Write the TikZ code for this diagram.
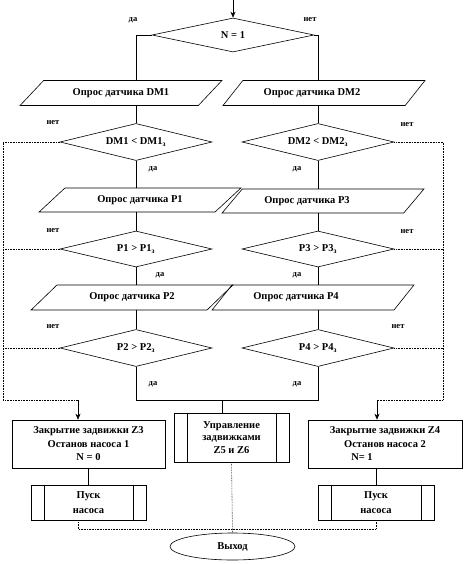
\documentclass[tikz,border=0pt]{standalone}
\usepackage{fontspec}
\setmainfont{Liberation Serif}
\usetikzlibrary{shapes.geometric,arrows.meta}
\begin{document}
\begin{tikzpicture}[x=1pt,y=-1pt,
  font=\bfseries\fontsize{10.5}{13.5}\selectfont,
  every node/.style={inner sep=0pt},
  line width=0.6pt,
  dia/.style={diamond,draw,shape aspect=4,minimum width=152pt,minimum height=37pt},
  para/.style={trapezium,draw,trapezium left angle=32,trapezium right angle=148,
     trapezium stretches=true,minimum width=202pt,minimum height=25pt},
  box/.style={rectangle,draw,align=center},
  proc/.style={rectangle,draw,align=center},
  lab/.style={font=\bfseries\fontsize{8.5}{9}\selectfont},
  dl/.style={densely dotted},
  arr/.style={-{Stealth[length=6pt,width=5pt]}}]
\useasboundingbox (0,0) rectangle (465,564);

% decisions and inputs
\node[dia,minimum width=162pt,minimum height=34pt] (n1) at (233,35) {N = 1};
\node[para] (pA) at (121,93) {Опрос датчика DM1};
\node[para] (pB) at (324,93) {Опрос датчика DM2\hspace*{24pt}};
\node[dia] (dA) at (136,142) {DM1 < DM1\textsubscript{з}};
\node[dia] (dB) at (318,142) {DM2 < DM2\textsubscript{з}};
\node[para,minimum height=24pt] (pC) at (140,200) {Опрос датчика P1};
\node[para,minimum height=24pt] (pD) at (323,201) {Опрос датчика P3\hspace*{32pt}};
\node[dia,minimum height=36pt] (dC) at (136,249) {P1 > P1\textsubscript{з}};
\node[dia,minimum height=36pt] (dD) at (318,249) {P3 > P3\textsubscript{з}};
\node[para] (pE) at (132,297.5) {Опрос датчика P2};
\node[para] (pF) at (313,297.5) {Опрос датчика P4\hspace*{34pt}};
\node[dia] (dE) at (136,348) {P2 > P2\textsubscript{з}};
\node[dia] (dF) at (318,348) {P4 > P4\textsubscript{з}};

% actions
\node[box,minimum width=153pt,minimum height=48pt] (bL) at (88.5,444)
  {Закрытие задвижки Z3\\Останов насоса 1\\N = 0};
\node[box,minimum width=154pt,minimum height=48pt] (bR) at (385,444)
  {Закрытие задвижки Z4\\Останов насоса 2\\N= 1\hspace*{46pt}};
\node[proc,minimum width=115pt,minimum height=49pt,font=\bfseries\fontsize{10.5}{12.5}\selectfont] (mid) at (231.5,437.5)
  {Управление\\задвижками\\Z5 и Z6};
\node[proc,minimum width=115pt,minimum height=35pt,font=\bfseries\fontsize{10.5}{15}\selectfont] (sL) at (88.5,502.5) {Пуск\\насоса};
\node[proc,minimum width=116pt,minimum height=35pt,font=\bfseries\fontsize{10.5}{15}\selectfont] (sR) at (376,502.5) {Пуск\\насоса};
\node[ellipse,draw,minimum width=125pt,minimum height=27pt] (ex) at (232.5,546.5) {Выход};

% inner bars of predefined processes
\foreach \n in {mid,sL,sR}{
  \draw ([xshift=13.5pt]\n.north west) -- ([xshift=13.5pt]\n.south west);
  \draw ([xshift=-13.5pt]\n.north east) -- ([xshift=-13.5pt]\n.south east);
}

% helper coordinates
\coordinate (start) at (233,0);
\coordinate (wl) at (3,400);
\coordinate (wr) at (443,400);
\coordinate (al) at (78,400);
\coordinate (ar) at (377,400);
\coordinate (jm) at (222,400);
\coordinate (jb) at (230,529);

% connectors
\draw[arr] (start) -- (n1.north);
\draw (n1.west) -| (dA |- pA.north);
\draw (n1.east) -| (dB |- pB.north);
\draw (dA |- pA.south) -- (dA.north);
\draw (dB |- pB.south) -- (dB.north);
\draw (dA.south) -- (dA |- pC.north);
\draw (dA |- pC.south) -- (dC.north);
\draw (dB.south) -- (dB |- pD.north);
\draw (dB |- pD.south) -- (dD.north);
\draw (dC.south) -- (dC |- pE.north);
\draw (dC |- pE.south) -- (dE.north);
\draw (dD.south) -- (dD |- pF.north);
\draw (dD |- pF.south) -- (dF.north);
\draw (dE.south) |- (jm);
\draw (dF.south) |- (jm);
\draw (jm) -- (jm |- mid.north);

\draw[dl] (dA.west) -| (wl) -- (al);
\draw[dl] (dC.west) -- (dC.west -| wl);
\draw[dl] (dE.west) -- (dE.west -| wl);
\draw[arr] (al) -- (al |- bL.north);
\draw[dl] (dB.east) -| (wr) -- (ar);
\draw[dl] (dD.east) -- (dD.east -| wr);
\draw[dl] (dF.east) -- (dF.east -| wr);
\draw[arr] (ar) -- (ar |- bR.north);

\draw (bL.south) -- (sL.north);
\draw (sR.north |- bR.south) -- (sR.north);
\draw[dl] ([xshift=-10.5pt]sL.south) |- (sR.south |- jb) -- (sR.south);
\draw[dl] (mid.south) -- (ex.north);

% branch labels
\node[lab] (l1) at (133,20) {да};
\node[lab] (l2) at (310,20) {нет};
\node[lab] (l3) at (53,123) {нет};
\node[lab] (l4) at (153,169) {да};
\node[lab] (l5) at (53,231) {нет};
\node[lab] (l6) at (160,275) {да};
\node[lab] (l7) at (53,327) {нет};
\node[lab] (l8) at (153,384) {да};
\node[lab] (r3) at (407,125) {нет};
\node[lab] (r4) at (297,169) {да};
\node[lab] (r5) at (407,232) {нет};
\node[lab] (r6) at (297,275) {да};
\node[lab] (r7) at (398,327) {нет};
\node[lab] (r8) at (297,384) {да};
\end{tikzpicture}
\end{document}
